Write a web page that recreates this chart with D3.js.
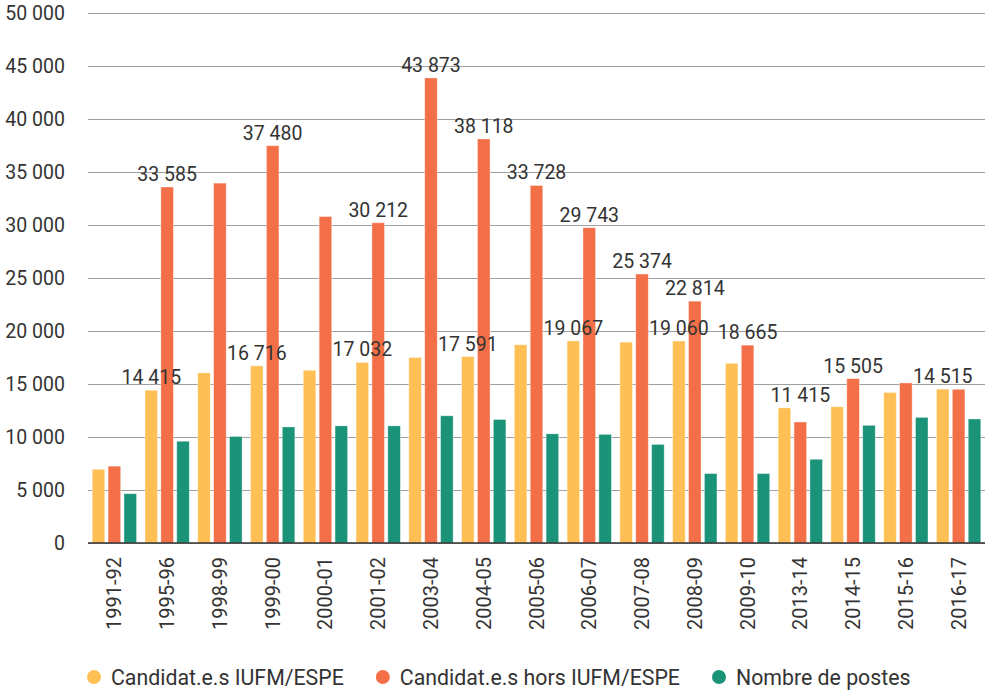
<!DOCTYPE html>
<meta charset="utf-8">
<script src="https://d3js.org/d3.v7.min.js"></script>

<style>
  body { margin: 0; background: #fff; }
  text { font-family: Roboto, "DejaVu Sans", sans-serif; fill: #333; }
</style>

<body>
  <div id="chart"></div>
</body>

<script>
// data
var categories = ["1991-92", "1995-96", "1998-99", "1999-00", "2000-01", "2001-02", "2003-04", "2004-05",
  "2005-06", "2006-07", "2007-08", "2008-09", "2009-10", "2013-14", "2014-15", "2015-16", "2016-17"]

var seriesNames = ["Candidat.e.s IUFM/ESPE", "Candidat.e.s hors IUFM/ESPE", "Nombre de postes"]

var iufm   = [6950, 14415, 16050, 16716, 16300, 17032, 17500, 17591, 18700, 19067, 18950, 19060, 16950, 12750, 12850, 14200, 14515]
var hors   = [7250, 33585, 33950, 37480, 30800, 30212, 43873, 38118, 33728, 29743, 25374, 22814, 18665, 11415, 15505, 15100, 14500]
var postes = [4650, 9600, 10050, 10950, 11050, 11050, 12000, 11650, 10300, 10250, 9300, 6550, 6550, 7900, 11100, 11850, 11700]

// which bars carry a value label
var labelledIufm = ["1995-96", "1999-00", "2001-02", "2004-05", "2006-07", "2008-09", "2016-17"]
var labelledHors = ["1995-96", "1999-00", "2001-02", "2003-04", "2004-05", "2005-06", "2006-07",
  "2007-08", "2008-09", "2009-10", "2013-14", "2014-15"]

var yTicks = [0, 5000, 10000, 15000, 20000, 25000, 30000, 35000, 40000, 45000, 50000]

var colors = ["#fec055", "#f36f47", "#1b9379"]

var width = 988, height = 690
var margin = {top: 13, right: 3, bottom: 147, left: 88}

var svg = d3.select("#chart")
  .append("svg")
  .attr("width", width)
  .attr("height", height)

var fr = d3.formatLocale({decimal: ",", thousands: " ", grouping: [3], currency: ["", " €"]})
var fmt = fr.format(",d")

var values = [iufm, hors, postes]
var rows = categories.map(function(c, i) {
  return {cat: c, vals: values.map(function(v, s) { return {s: s, v: v[i], cat: c, i: i} })}
})

var x0 = d3.scaleBand()
  .domain(categories)
  .range([margin.left, width - margin.right])
  .paddingInner(0.16)
  .paddingOuter(0.08)

var x1 = d3.scaleBand()
  .domain([0, 1, 2])
  .range([0, x0.bandwidth()])
  .paddingInner(0.21)

var y = d3.scaleLinear()
  .domain([0, 50000])
  .range([height - margin.bottom, margin.top])

// grid lines + y labels
var yAxis = svg.append("g")
  .attr("transform", "translate(" + margin.left + ",0)")
  .call(d3.axisLeft(y).tickValues(yTicks).tickSize(-(width - margin.left - margin.right)).tickPadding(23).tickFormat(fmt))

yAxis.select(".domain").remove()
yAxis.selectAll(".tick line").attr("stroke", "#a0a0a0").attr("stroke-width", 1)
yAxis.selectAll(".tick text").style("font-size", "19.5px").attr("fill", "#333")

// bars
var groups = svg.selectAll(".grp")
  .data(rows)
  .enter()
  .append("g")
  .attr("transform", function(d) { return "translate(" + x0(d.cat) + ",0)" })

groups.selectAll("rect")
  .data(function(d) { return d.vals })
  .enter()
  .append("rect")
  .attr("x", function(d) { return x1(d.s) })
  .attr("y", function(d) { return y(d.v) })
  .attr("width", x1.bandwidth())
  .attr("height", function(d) { return y(0) - y(d.v) })
  .attr("fill", function(d) { return colors[d.s] })
  .attr("stroke", "rgba(255,255,255,0.45)")
  .attr("stroke-width", 0.8)

// baseline
svg.append("line")
  .attr("x1", margin.left).attr("x2", width - margin.right)
  .attr("y1", y(0)).attr("y2", y(0))
  .attr("stroke", "#333").attr("stroke-width", 1.5)

// value labels (orange labels sit above the yellow bar when it is taller)
groups.selectAll(".lbl")
  .data(function(d) {
    return d.vals.filter(function(e) {
      return (e.s == 0 && labelledIufm.indexOf(e.cat) >= 0) || (e.s == 1 && labelledHors.indexOf(e.cat) >= 0)
    })
  })
  .enter()
  .append("text")
  .attr("x", function(d) { return x1(d.s) + x1.bandwidth() / 2 })
  .attr("y", function(d) {
    var top = d.s == 1 ? Math.max(d.v, iufm[d.i]) : d.v
    return y(top) - 6
  })
  .attr("text-anchor", "middle")
  .style("font-size", "19.5px")
  .text(function(d) { return fmt(d.v) })

// x labels (rotated)
svg.selectAll(".xl")
  .data(categories)
  .enter()
  .append("text")
  .attr("transform", function(d) {
    return "translate(" + (x0(d) + x0.bandwidth() / 2 + 7) + "," + (y(0) + 14) + ") rotate(-90)"
  })
  .attr("text-anchor", "end")
  .style("font-size", "20px")
  .text(function(d) { return d })

// legend
var lx = 94
seriesNames.forEach(function(name, i) {
  var g = svg.append("g").attr("transform", "translate(" + lx + ",677)")
  g.append("circle").attr("r", 7).attr("fill", colors[i])
  var t = g.append("text")
    .attr("x", 17)
    .attr("y", 7.5)
    .style("font-size", "21.3px")
    .text(name)
  lx += 17 + t.node().getComputedTextLength() + 39
})
</script>
